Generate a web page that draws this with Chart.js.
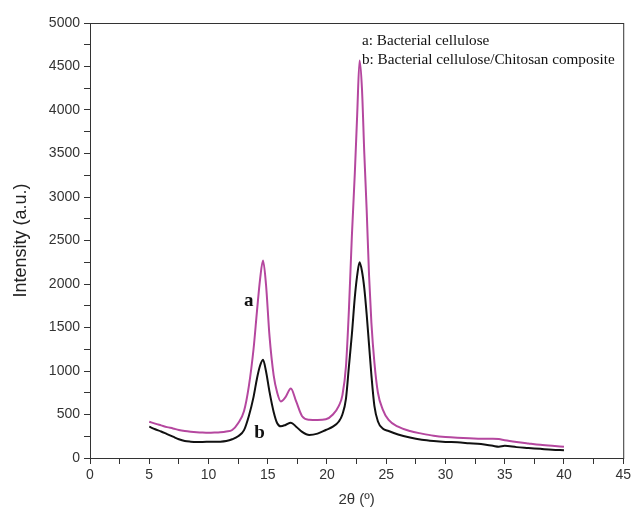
<!DOCTYPE html>
<html>
<head>
<meta charset="utf-8">
<script src="https://cdn.jsdelivr.net/npm/chart.js@4.4.1/dist/chart.umd.min.js"></script>
<style>
  html, body { margin: 0; padding: 0; background: #fff; }
  #wrap { width: 634px; height: 513px; }
</style>
</head>
<body>
<div id="wrap"><canvas id="xrd" width="634" height="513"></canvas></div>
<script>
// 2-theta positions (deg)
const twoTheta = [5, 5.5, 6, 6.5, 7, 7.5, 8, 8.5, 9, 9.5, 10, 10.5, 11, 11.5, 12, 12.5, 13, 13.4, 13.8, 14.1,
  14.35, 14.6, 14.85, 15.15, 15.5, 15.8, 16.1, 16.5, 16.95, 17.4, 17.9, 18.5, 19.2, 19.9, 20.5, 21, 21.3, 21.6,
  21.85, 22.1, 22.35, 22.55, 22.75, 22.95, 23.15, 23.35, 23.55, 23.75, 24, 24.3, 24.7, 25.2, 26, 27, 28, 29, 30,
  31, 32, 33, 34, 34.5, 35, 36, 37, 38, 39, 40];

// a: Bacterial cellulose
const cellulose = [417, 395, 375, 355, 340, 322, 310, 302, 296, 292, 290, 292, 296, 305, 322, 400, 540, 820, 1250, 1700,
  2050, 2270, 2000, 1400, 950, 750, 650, 700, 800, 650, 480, 440, 437, 445, 500, 600, 720, 1050,
  1700, 2550, 3275, 3950, 4570, 4250, 3500, 2850, 2100, 1550, 1100, 750, 560, 437, 360, 310, 280, 255, 240,
  232, 228, 220, 222, 218, 205, 185, 168, 152, 140, 130];

// b: Bacterial cellulose/Chitosan composite
const composite = [360, 330, 305, 275, 245, 215, 195, 188, 185, 185, 186, 187, 188, 195, 215, 250, 320, 480, 700, 920,
  1060, 1130, 1000, 760, 530, 400, 365, 380, 406, 360, 300, 264, 280, 322, 360, 420, 500, 680,
  1050, 1420, 1850, 2100, 2250, 2150, 1950, 1650, 1300, 950, 600, 420, 340, 310, 270, 235, 210, 195, 185,
  180, 170, 160, 140, 130, 140, 125, 115, 105, 95, 90];

const legendLines = ["a: Bacterial cellulose", "b: Bacterial cellulose/Chitosan composite"];

const toXY = ys => twoTheta.map((x, i) => ({ x, y: ys[i] }));

// frame round the plot + curve letters + legend text
const extras = {
  id: "extras",
  afterDraw(chart) {
    const { ctx, chartArea: a, scales: { x, y } } = chart;
    ctx.save();
    ctx.strokeStyle = "#333";
    ctx.lineWidth = 1;
    ctx.strokeRect(a.left + 0.5, a.top + 0.5, a.right - a.left, a.bottom - a.top);

    ctx.fillStyle = "#111";
    ctx.font = "bold 19px 'Liberation Serif', serif";
    ctx.textAlign = "center";
    ctx.textBaseline = "middle";
    ctx.fillText("a", x.getPixelForValue(13.4), y.getPixelForValue(1800));
    ctx.fillText("b", x.getPixelForValue(14.3), y.getPixelForValue(290));

    ctx.font = "15.2px 'Liberation Serif', serif";
    ctx.textAlign = "left";
    ctx.fillText(legendLines[0], a.left + 272, a.top + 18);
    ctx.fillText(legendLines[1], a.left + 272, a.top + 37);
    ctx.restore();
  }
};

const tickFont = { family: "'Liberation Sans', Arial, sans-serif", size: 14 };

new Chart(document.getElementById("xrd"), {
  type: "line",
  data: {
    datasets: [
      {
        label: "b", data: toXY(composite),
        borderColor: "#111", borderWidth: 2, pointRadius: 0,
        tension: 0.3, cubicInterpolationMode: "monotone", fill: false
      },
      {
        label: "a", data: toXY(cellulose),
        borderColor: "#b5479f", borderWidth: 2, pointRadius: 0,
        tension: 0.3, cubicInterpolationMode: "monotone", fill: false
      }
    ]
  },
  options: {
    responsive: false,
    animation: false,
    layout: { padding: { top: 23, right: 9, left: 0, bottom: 0 } },
    plugins: { legend: { display: false }, tooltip: { enabled: false } },
    scales: {
      x: {
        type: "linear", min: 0, max: 45,
        ticks: {
          stepSize: 2.5, color: "#333", font: tickFont, padding: 3, maxRotation: 0,
          callback: v => (v % 5 === 0 ? v : "")
        },
        grid: { drawOnChartArea: false, tickLength: 6, color: "#333" },
        border: { color: "#333", width: 1 },
        title: {
          display: true, text: "2θ (º)", color: "#333",
          font: { family: "'Liberation Sans', Arial, sans-serif", size: 15 }, padding: { top: 1 }
        },
        afterFit: s => { s.height = 55; }
      },
      y: {
        min: 0, max: 5000,
        ticks: {
          stepSize: 250, color: "#333", font: tickFont, padding: 4,
          callback: v => (v % 500 === 0 ? v : "")
        },
        grid: { drawOnChartArea: false, tickLength: 6, color: "#333" },
        border: { color: "#333", width: 1 },
        title: {
          display: true, text: "Intensity (a.u.)", color: "#222",
          font: { family: "'Liberation Sans', Arial, sans-serif", size: 18 }, padding: { top: 10, bottom: 6 }
        },
        afterFit: s => { s.width = 90; }
      }
    }
  },
  plugins: [extras]
});
</script>
</body>
</html>
